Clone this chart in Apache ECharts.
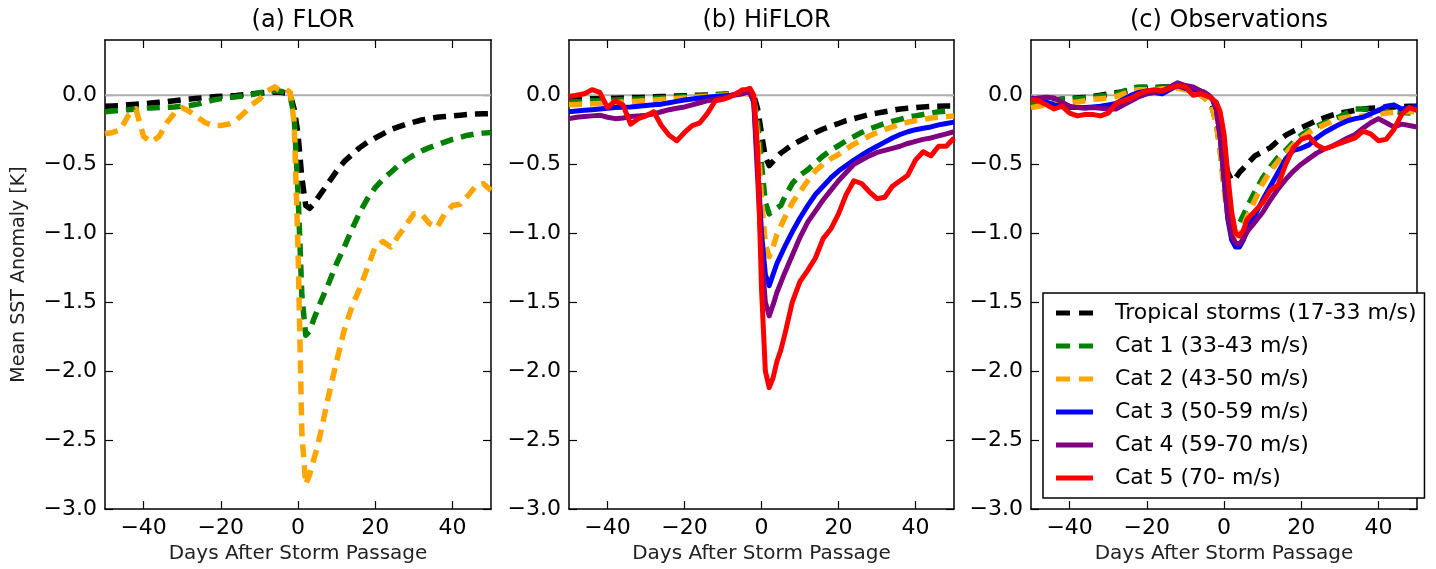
<!DOCTYPE html>
<html><head><meta charset="utf-8">
<script src="https://cdn.jsdelivr.net/npm/echarts@6/dist/echarts.min.js"></script>
<style>html,body{margin:0;padding:0;background:#fff}#c{width:1436px;height:569px}</style>
</head><body><div id="c"></div>
<script>
// ---- data ----
const days = [-50,-48,-46,-44,-42,-40,-38,-36,-34,-32,-30,-28,-26,-24,-22,-20,-18,-16,-14,-12,-10,-8,-6,-5,-4,-3,-2,-1,0,1,2,3,4,5,6,8,10,12,14,16,18,20,22,24,26,28,30,32,34,36,38,40,42,44,46,48,50];
const panelTitles = ['(a) FLOR', '(b) HiFLOR', '(c) Observations'];
const seriesNames = ['Tropical storms (17-33 m/s)', 'Cat 1 (33-43 m/s)', 'Cat 2 (43-50 m/s)', 'Cat 3 (50-59 m/s)', 'Cat 4 (59-70 m/s)', 'Cat 5 (70- m/s)'];
const xTicks = [-40, -20, 0, 20, 40];
const yTicks = [-3.0, -2.5, -2.0, -1.5, -1.0, -0.5, 0.0];
const xLabel = 'Days After Storm Passage';
const yLabel = 'Mean SST Anomaly [K]';

// (a) FLOR
const florTS = [-0.08,-0.078,-0.075,-0.07,-0.066,-0.062,-0.057,-0.052,-0.047,-0.04,-0.033,-0.028,-0.022,-0.017,-0.012,-0.008,-0.005,-0.002,0.003,0.01,0.015,0.02,0.022,0.022,0.02,0.015,0.0,-0.1,-0.28,-0.6,-0.8,-0.82,-0.79,-0.75,-0.71,-0.63,-0.55,-0.48,-0.43,-0.38,-0.34,-0.31,-0.28,-0.25,-0.23,-0.21,-0.195,-0.18,-0.17,-0.16,-0.155,-0.15,-0.145,-0.14,-0.137,-0.135,-0.133];
const florC1 = [-0.12,-0.115,-0.11,-0.105,-0.1,-0.095,-0.092,-0.09,-0.088,-0.085,-0.08,-0.075,-0.065,-0.05,-0.035,-0.025,-0.018,-0.012,-0.005,0.005,0.018,0.025,0.03,0.03,0.025,0.015,-0.01,-0.15,-0.7,-1.45,-1.74,-1.71,-1.63,-1.56,-1.49,-1.36,-1.22,-1.10,-0.97,-0.85,-0.75,-0.67,-0.61,-0.56,-0.51,-0.47,-0.435,-0.405,-0.38,-0.36,-0.34,-0.32,-0.305,-0.29,-0.28,-0.275,-0.27];
const florC2 = [-0.28,-0.27,-0.25,-0.15,-0.10,-0.30,-0.34,-0.30,-0.20,-0.13,-0.09,-0.12,-0.16,-0.20,-0.22,-0.22,-0.21,-0.18,-0.13,-0.07,-0.03,0.03,0.06,0.04,0.03,0.04,0.02,-0.2,-1.1,-2.45,-2.82,-2.75,-2.65,-2.55,-2.43,-2.17,-1.93,-1.70,-1.53,-1.40,-1.25,-1.10,-1.06,-1.10,-1.02,-0.94,-0.86,-0.86,-0.93,-0.96,-0.86,-0.80,-0.79,-0.73,-0.66,-0.64,-0.69];

// (b) HiFLOR
const hiTS = [-0.03,-0.03,-0.028,-0.026,-0.025,-0.023,-0.022,-0.02,-0.018,-0.016,-0.014,-0.012,-0.01,-0.008,-0.006,-0.004,-0.002,0.0,0.002,0.004,0.006,0.01,0.015,0.018,0.02,0.02,0.0,-0.1,-0.28,-0.45,-0.51,-0.48,-0.45,-0.42,-0.40,-0.36,-0.33,-0.30,-0.27,-0.245,-0.225,-0.205,-0.185,-0.17,-0.155,-0.14,-0.13,-0.12,-0.11,-0.10,-0.095,-0.09,-0.085,-0.082,-0.08,-0.078,-0.077];
const hiC1 = [-0.05,-0.048,-0.045,-0.042,-0.04,-0.038,-0.035,-0.033,-0.03,-0.028,-0.025,-0.022,-0.02,-0.017,-0.014,-0.01,-0.007,-0.004,0.0,0.003,0.006,0.01,0.015,0.018,0.02,0.015,-0.02,-0.2,-0.5,-0.78,-0.86,-0.84,-0.82,-0.80,-0.74,-0.64,-0.58,-0.54,-0.49,-0.44,-0.40,-0.365,-0.33,-0.30,-0.27,-0.245,-0.225,-0.205,-0.19,-0.175,-0.16,-0.15,-0.14,-0.13,-0.12,-0.115,-0.11];
const hiC2 = [-0.07,-0.068,-0.065,-0.062,-0.06,-0.057,-0.054,-0.05,-0.047,-0.044,-0.04,-0.036,-0.032,-0.028,-0.024,-0.02,-0.016,-0.012,-0.008,-0.004,0.0,0.005,0.01,0.012,0.012,0.005,-0.03,-0.3,-0.75,-1.08,-1.17,-1.10,-1.01,-0.95,-0.89,-0.78,-0.70,-0.62,-0.55,-0.50,-0.46,-0.43,-0.39,-0.355,-0.325,-0.295,-0.27,-0.25,-0.23,-0.21,-0.195,-0.185,-0.175,-0.165,-0.16,-0.155,-0.15];
const hiC3 = [-0.12,-0.115,-0.11,-0.105,-0.10,-0.095,-0.09,-0.087,-0.085,-0.08,-0.075,-0.07,-0.065,-0.055,-0.045,-0.035,-0.027,-0.02,-0.014,-0.01,-0.005,0.0,0.01,0.015,0.02,0.02,-0.05,-0.5,-1.0,-1.3,-1.38,-1.30,-1.22,-1.16,-1.10,-0.99,-0.89,-0.80,-0.72,-0.66,-0.60,-0.55,-0.51,-0.47,-0.435,-0.40,-0.37,-0.34,-0.31,-0.285,-0.265,-0.25,-0.24,-0.23,-0.215,-0.205,-0.195];
const hiC4 = [-0.17,-0.16,-0.155,-0.15,-0.145,-0.16,-0.17,-0.165,-0.155,-0.15,-0.145,-0.135,-0.12,-0.105,-0.095,-0.085,-0.07,-0.055,-0.04,-0.03,-0.02,-0.005,0.005,0.01,0.02,0.02,-0.05,-0.6,-1.15,-1.5,-1.6,-1.52,-1.43,-1.36,-1.29,-1.16,-1.03,-0.92,-0.84,-0.76,-0.69,-0.62,-0.56,-0.50,-0.47,-0.44,-0.415,-0.40,-0.385,-0.37,-0.35,-0.335,-0.32,-0.31,-0.295,-0.28,-0.265];
const hiC5 = [-0.01,0.0,0.01,0.04,0.02,-0.09,-0.04,-0.07,-0.21,-0.17,-0.15,-0.12,-0.22,-0.29,-0.33,-0.27,-0.22,-0.20,-0.13,-0.04,-0.03,-0.01,0.02,0.04,0.04,0.05,0.0,-0.4,-1.4,-2.0,-2.12,-2.05,-1.93,-1.85,-1.74,-1.50,-1.35,-1.27,-1.18,-1.04,-0.97,-0.86,-0.72,-0.62,-0.64,-0.70,-0.75,-0.74,-0.66,-0.62,-0.58,-0.47,-0.41,-0.44,-0.37,-0.37,-0.31];

// (c) Observations
const obsTS = [-0.05,-0.045,-0.04,-0.035,-0.03,-0.025,-0.02,-0.015,-0.008,0.0,0.01,0.018,0.025,0.035,0.045,0.05,0.055,0.06,0.06,0.055,0.05,0.04,0.02,0.0,-0.03,-0.07,-0.15,-0.3,-0.45,-0.56,-0.62,-0.6,-0.56,-0.53,-0.5,-0.44,-0.41,-0.38,-0.33,-0.29,-0.26,-0.235,-0.21,-0.185,-0.165,-0.145,-0.13,-0.12,-0.11,-0.10,-0.095,-0.09,-0.087,-0.085,-0.083,-0.08,-0.08];
const obsC1 = [-0.06,-0.05,-0.04,-0.035,-0.03,-0.03,-0.025,-0.02,-0.015,-0.005,0.0,0.01,0.03,0.05,0.06,0.06,0.055,0.055,0.06,0.06,0.045,0.03,0.0,-0.02,-0.05,-0.1,-0.2,-0.4,-0.65,-0.82,-0.9,-0.93,-0.93,-0.87,-0.81,-0.70,-0.60,-0.52,-0.45,-0.40,-0.34,-0.29,-0.255,-0.225,-0.20,-0.18,-0.155,-0.125,-0.10,-0.10,-0.105,-0.11,-0.115,-0.12,-0.125,-0.13,-0.13];
const obsC2 = [-0.09,-0.08,-0.07,-0.065,-0.06,-0.055,-0.05,-0.04,-0.03,-0.025,-0.02,-0.01,0.01,0.03,0.04,0.04,0.04,0.045,0.05,0.05,0.04,0.03,0.0,-0.02,-0.05,-0.1,-0.2,-0.4,-0.68,-0.88,-0.98,-1.02,-1.0,-0.95,-0.88,-0.76,-0.64,-0.55,-0.48,-0.42,-0.36,-0.31,-0.27,-0.24,-0.215,-0.19,-0.17,-0.16,-0.155,-0.15,-0.145,-0.14,-0.13,-0.125,-0.12,-0.12,-0.12];
const obsC3 = [-0.02,-0.03,-0.05,-0.07,-0.08,-0.09,-0.09,-0.09,-0.085,-0.08,-0.07,-0.06,-0.03,0.0,0.02,0.03,0.02,0.01,0.04,0.07,0.05,0.04,0.03,0.02,0.0,-0.03,-0.1,-0.3,-0.6,-0.9,-1.05,-1.1,-1.1,-1.05,-0.98,-0.87,-0.76,-0.66,-0.56,-0.46,-0.40,-0.385,-0.36,-0.31,-0.27,-0.24,-0.21,-0.185,-0.17,-0.16,-0.135,-0.11,-0.08,-0.07,-0.10,-0.09,-0.08];
const obsC4 = [-0.03,-0.02,-0.015,-0.02,-0.05,-0.08,-0.09,-0.095,-0.09,-0.095,-0.10,-0.10,-0.07,-0.04,-0.01,0.01,0.02,0.03,0.06,0.09,0.07,0.06,0.03,0.02,0.0,-0.03,-0.1,-0.3,-0.6,-0.88,-1.02,-1.07,-1.08,-1.04,-0.99,-0.92,-0.85,-0.76,-0.68,-0.61,-0.55,-0.50,-0.46,-0.42,-0.39,-0.37,-0.34,-0.31,-0.285,-0.24,-0.20,-0.17,-0.20,-0.23,-0.21,-0.22,-0.23];
const obsC5 = [-0.03,-0.04,-0.07,-0.10,-0.08,-0.13,-0.15,-0.14,-0.14,-0.15,-0.13,-0.06,-0.04,-0.02,0.01,0.03,0.04,0.03,0.05,0.07,0.06,0.0,0.01,0.0,-0.01,-0.03,-0.05,-0.12,-0.28,-0.58,-0.85,-1.0,-1.02,-0.98,-0.90,-0.84,-0.78,-0.69,-0.65,-0.50,-0.38,-0.32,-0.30,-0.36,-0.39,-0.37,-0.35,-0.33,-0.31,-0.26,-0.28,-0.33,-0.32,-0.25,-0.14,-0.09,-0.11];

const panelSeries = [
  [florTS, florC1, florC2],
  [hiTS, hiC1, hiC2, hiC3, hiC4, hiC5],
  [obsTS, obsC1, obsC2, obsC3, obsC4, obsC5]
];

// ---- styles ----
const colors = ['#000000', '#008000', '#FFA500', '#0000FF', '#800080', '#FF0000'];
const dashed = [true, true, true, false, false, false];
const FONT = 'DejaVu Sans';
const grids = [
  {left: 105, top: 40, width: 386, height: 473},
  {left: 569, top: 40, width: 385, height: 473},
  {left: 1031, top: 40, width: 386, height: 473}
];
const DASH_ICON = 'path://M0,0H14V5H0Z M23,0H37V5H23Z';
const SOLID_ICON = 'path://M0,0H37V5H0Z';

const fmtNum = (v, d) => (v < 0 ? '\u2212' : '') + Math.abs(v).toFixed(d);

const xAxes = [], yAxes = [], series = [], titles = [];
grids.forEach((g, i) => {
  titles.push({
    text: panelTitles[i], left: g.left + g.width / 2, top: 4, textAlign: 'center',
    textStyle: {fontFamily: FONT, fontSize: 24, fontWeight: 'normal', color: '#000'}
  });
  const tickCommon = {inside: true, length: 8, lineStyle: {color: '#000', width: 1.2}};
  xAxes.push({
    type: 'value', gridIndex: i, min: -50, max: 50, position: 'bottom',
    name: xLabel, nameLocation: 'middle', nameGap: 34,
    nameTextStyle: {fontFamily: FONT, fontSize: 20, color: '#222'},
    axisLine: {show: true, onZero: false, lineStyle: {color: '#000', width: 1.5}},
    axisTick: Object.assign({customValues: xTicks}, tickCommon),
    axisLabel: {customValues: xTicks, formatter: v => fmtNum(v, 0), fontFamily: FONT, fontSize: 22, color: '#000', margin: 8},
    splitLine: {show: false}
  });
  xAxes.push({
    type: 'value', gridIndex: i, min: -50, max: 50, position: 'top',
    axisLine: {show: true, onZero: false, lineStyle: {color: '#000', width: 1.5}},
    axisTick: Object.assign({customValues: xTicks}, tickCommon),
    axisLabel: {show: false}, splitLine: {show: false}
  });
  yAxes.push({
    type: 'value', gridIndex: i, min: -3, max: 0.4, position: 'left',
    name: i === 0 ? yLabel : '', nameLocation: 'middle', nameGap: 76,
    nameTextStyle: {fontFamily: FONT, fontSize: 19, color: '#222'},
    axisLine: {show: true, onZero: false, lineStyle: {color: '#000', width: 1.5}},
    axisTick: Object.assign({customValues: yTicks}, tickCommon),
    axisLabel: {customValues: yTicks, formatter: v => fmtNum(v, 1), fontFamily: FONT, fontSize: 22, color: '#000', margin: 8},
    splitLine: {show: false}
  });
  yAxes.push({
    type: 'value', gridIndex: i, min: -3, max: 0.4, position: 'right',
    axisLine: {show: true, onZero: false, lineStyle: {color: '#000', width: 1.5}},
    axisTick: Object.assign({customValues: yTicks}, tickCommon),
    axisLabel: {show: false}, splitLine: {show: false}
  });
  // zero reference line
  series.push({
    type: 'line', name: 'zero' + i, xAxisIndex: 2 * i, yAxisIndex: 2 * i,
    data: [[-50, 0], [50, 0]], symbol: 'none', silent: true, z: 1,
    lineStyle: {color: '#b0b0b0', width: 2}
  });
  panelSeries[i].forEach((vals, k) => {
    series.push({
      type: 'line', name: seriesNames[k], xAxisIndex: 2 * i, yAxisIndex: 2 * i,
      data: days.map((d, j) => [d, vals[j]]),
      symbol: 'none', smooth: false, z: 2 + k,
      lineStyle: {color: colors[k], width: dashed[k] ? 5.5 : 5, type: dashed[k] ? [13, 8] : 'solid', cap: 'butt', join: 'round'},
      itemStyle: {color: colors[k]}
    });
  });
});

const legendData = seriesNames.map((n, k) => ({
  name: n,
  icon: dashed[k] ? DASH_ICON : SOLID_ICON,
  itemStyle: {color: colors[k], borderWidth: 0},
  lineStyle: {width: 0}
}));

const chart = echarts.init(document.getElementById('c'), null, {renderer: 'canvas'});
chart.setOption({
  animation: false,
  backgroundColor: '#fff',
  title: titles,
  grid: grids,
  xAxis: xAxes,
  yAxis: yAxes,
  legend: {
    data: legendData, orient: 'vertical', left: 1043, top: 293,
    backgroundColor: '#fff', borderColor: '#000', borderWidth: 1.5, borderRadius: 0,
    padding: [9, 8, 9, 13], itemWidth: 37, itemHeight: 5, itemGap: 11,
    selectedMode: false, z: 20,
    textStyle: {fontFamily: FONT, fontSize: 22, color: '#000', padding: [0, 0, 0, 17], lineHeight: 22}
  },
  series: series
});
</script>
</body></html>
